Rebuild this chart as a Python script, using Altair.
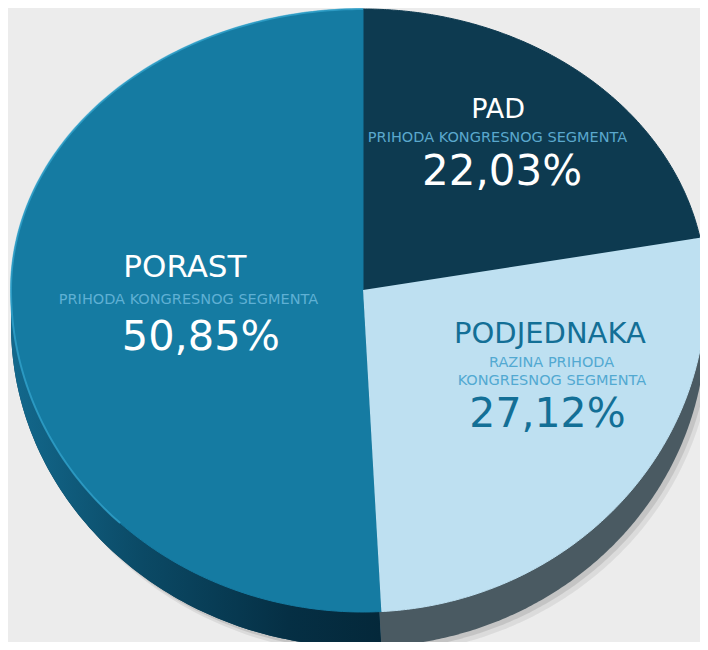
import math
import altair as alt
import pandas as pd

# ---- data ----
categories = ["PAD", "PODJEDNAKA", "PORAST"]
values = [22.03, 27.12, 50.85]
subtitle_1 = ["PRIHODA KONGRESNOG SEGMENTA", "RAZINA PRIHODA", "PRIHODA KONGRESNOG SEGMENTA"]
subtitle_2 = ["", "KONGRESNOG SEGMENTA", ""]

top_colors = ["#0d3a50", "#bee0f1", "#157ba2"]
side_colors = ["#0a2b3b", "#4a5a62", "#0a3f58"]

pct_labels = [f"{v:.2f}".replace(".", ",") + "%" for v in values]

df = pd.DataFrame({
    "cat": categories,
    "value": values,
    "order": list(range(len(categories))),
    "sub1": subtitle_1,
    "sub2": subtitle_2,
    "pct": pct_labels,
})

FONT = "DejaVu Sans"
DEPTH = 35
N = 200  # points along each slice's rim

# perspective-like pie: piecewise linear scales map the unit circle to the tilted top face
x_scale = alt.Scale(domain=[-1, 0, 1], range=[3, 355, 698], nice=False, zero=False)
y_scale = alt.Scale(domain=[-1, 0, 1], range=[604, 282, 1], nice=False, zero=False)

base = (
    alt.Chart(df)
    .transform_window(cum="sum(value)", sort=[alt.SortField("order")])
    .transform_calculate(start="datum.cum - datum.value",
                         mid="datum.cum - datum.value / 2")
)

poly = (
    base.transform_calculate(idx=f"sequence(0, {N + 2})")
    .transform_flatten(["idx"])
    .transform_calculate(p=f"datum.start + datum.value * min(datum.idx, {N}) / {N}")
    .transform_calculate(
        px=f"datum.idx > {N} ? 0 : sin(datum.p / 100 * 2 * PI)",
        py=f"datum.idx > {N} ? 0 : cos(datum.p / 100 * 2 * PI)",
    )
)

pos = dict(
    x=alt.X("px:Q", scale=x_scale, axis=None),
    y=alt.Y("py:Q", scale=y_scale, axis=None),
    order=alt.Order("idx:Q"),
    detail="cat:N",
)

layers = []

# soft drop shadow
for xo, yo, op in [(7, DEPTH + 8, 0.07), (4, DEPTH + 4, 0.10)]:
    layers.append(
        poly.mark_line(filled=True, fill="#000000", opacity=op, xOffset=xo, yOffset=yo,
                       strokeWidth=0).encode(**pos)
    )

# side (depth) of the pie
layers.append(
    poly.mark_line(filled=True, yOffset=DEPTH, strokeWidth=1).encode(
        color=alt.Color("cat:N", scale=alt.Scale(domain=categories, range=side_colors), legend=None),
        **pos)
)
side_grad = alt.LinearGradient(
    gradient="linear",
    stops=[alt.GradientStop(color="#13698d", offset=0),
           alt.GradientStop(color="#0b4a66", offset=0.35),
           alt.GradientStop(color="#052f44", offset=0.75),
           alt.GradientStop(color="#04283a", offset=1)],
    x1=0, x2=1, y1=0, y2=0,
)
layers.append(
    poly.transform_filter(alt.datum.cat == "PORAST")
    .mark_line(filled=True, fill=side_grad, yOffset=DEPTH, strokeWidth=0)
    .encode(**pos)
)

# top face
layers.append(
    poly.mark_line(filled=True, strokeWidth=1).encode(
        fill=alt.Fill("cat:N", scale=alt.Scale(domain=categories, range=top_colors), legend=None),
        stroke=alt.Stroke("cat:N", scale=alt.Scale(domain=categories, range=top_colors), legend=None),
        **pos)
)
# light rim on the upper-left edge
layers.append(
    poly.transform_filter((alt.datum.cat == "PORAST") & (alt.datum.idx <= N) & (alt.datum.p >= 62))
    .mark_line(stroke="#35a6d0", strokeWidth=2, opacity=0.7)
    .encode(**pos)
)

# ---- labels ----
label_specs = {
    "PAD": [
        ("cat", 27, "#ffffff", 3.7, -42),
        ("sub1", 14.5, "#5aa8cd", 3.2, -18),
        ("pct", 42, "#ffffff", 7.7, 25),
    ],
    "PODJEDNAKA": [
        ("cat", 29, "#136f96", 25, -66),
        ("sub1", 14.5, "#52a9d1", 26.6, -42),
        ("sub2", 14.5, "#52a9d1", 27, -24),
        ("pct", 41, "#136f96", 22.6, 18),
    ],
    "PORAST": [
        ("cat", 31, "#ffffff", 33, -18),
        ("sub1", 14.5, "#5fb0d4", 36.6, 9),
        ("pct", 41.5, "#ffffff", 49, 55),
    ],
}

lab = base.transform_calculate(
    lx="0.6 * sin(datum.mid / 100 * 2 * PI)",
    ly="0.6 * cos(datum.mid / 100 * 2 * PI)",
)
for cat, lines in label_specs.items():
    sub = lab.transform_filter(alt.datum.cat == cat)
    for field, size, col, dx, dy in lines:
        layers.append(
            sub.mark_text(align="center", baseline="alphabetic", font=FONT,
                          fontSize=size, color=col, dx=dx, dy=dy).encode(
                x=alt.X("lx:Q", scale=x_scale, axis=None),
                y=alt.Y("ly:Q", scale=y_scale, axis=None),
                text=alt.Text(f"{field}:N"),
            )
        )

chart = (
    alt.layer(*layers)
    .resolve_scale(color="independent", fill="independent", stroke="independent")
    .properties(width=692, height=634, padding=0,
                autosize=alt.AutoSizeParams(type="none"),
                background="#ececec")
    .configure_view(stroke=None)
)

chart.save("out.html", embed_options={"renderer": "svg", "actions": False})
